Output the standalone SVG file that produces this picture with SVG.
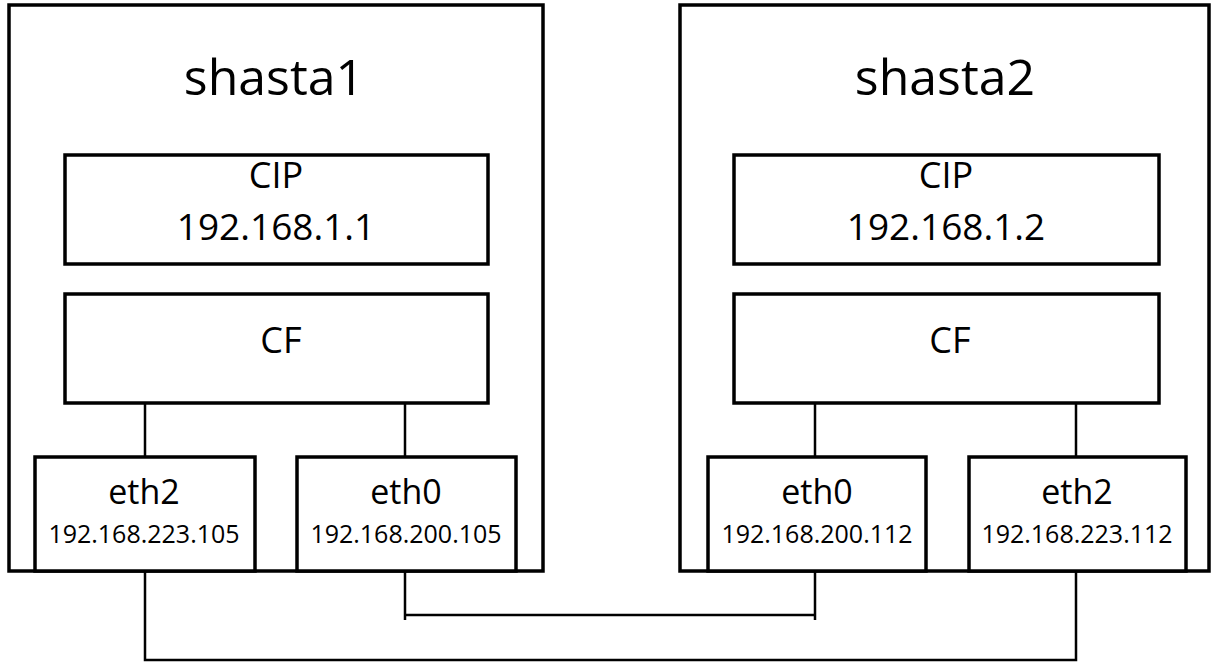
<svg xmlns="http://www.w3.org/2000/svg" width="1213" height="663" viewBox="0 0 1213 663">
<style>
.box{fill:#fff;stroke:#000;stroke-width:3.5}
.ob{fill:#fff;stroke:#000;stroke-width:3.5}
.ln{fill:none;stroke:#000;stroke-width:2.5}
text{font-family:"Open Sans","Liberation Sans",sans-serif;fill:#000;text-anchor:middle}
.t1{font-size:50px}
.t2{font-size:36px}
.t3{font-size:37px}
.t4{font-size:34px}
.t5{font-size:25px}
</style>
<rect width="1213" height="663" fill="#fff"/>
<g id="shasta1">
<rect class="ob" x="9" y="5" width="534" height="566"/>
<text class="t1" x="274" y="95">shasta1</text>
</g>
<g id="shasta2">
<rect class="ob" x="680" y="5" width="529" height="566"/>
<text class="t1" x="945" y="95">shasta2</text>
</g>
<g id="connectors">
<path class="ln" d="M145 403V457M405 403V457M815 403V457M1076 403V457"/>
<path class="ln" d="M405 569V620M815 569V620M405 615H815"/>
<path class="ln" d="M145 571V660H1076V571"/>
</g>
<g id="cip1">
<rect class="box" x="65" y="155" width="423" height="109"/>
<text class="t2" x="276" y="188">CIP</text>
<text class="t3" x="276" y="240">192.168.1.1</text>
</g>
<g id="cf1">
<rect class="box" x="65" y="294" width="423" height="109"/>
<text class="t2" x="281" y="353">CF</text>
</g>
<g id="eth2_1">
<rect class="box" x="35" y="457" width="220" height="114"/>
<text class="t4" x="144" y="504">eth2</text>
<text class="t5" x="144" y="543">192.168.223.105</text>
</g>
<g id="eth0_1">
<rect class="box" x="297" y="457" width="219" height="114"/>
<text class="t4" x="406" y="504">eth0</text>
<text class="t5" x="406" y="543">192.168.200.105</text>
</g>
<g id="cip2">
<rect class="box" x="734" y="155" width="425" height="109"/>
<text class="t2" x="946" y="188">CIP</text>
<text class="t3" x="946" y="240">192.168.1.2</text>
</g>
<g id="cf2">
<rect class="box" x="734" y="294" width="425" height="109"/>
<text class="t2" x="950" y="353">CF</text>
</g>
<g id="eth0_2">
<rect class="box" x="708" y="457" width="218" height="114"/>
<text class="t4" x="817" y="504">eth0</text>
<text class="t5" x="817" y="543">192.168.200.112</text>
</g>
<g id="eth2_2">
<rect class="box" x="969" y="457" width="217" height="114"/>
<text class="t4" x="1077" y="504">eth2</text>
<text class="t5" x="1077" y="543">192.168.223.112</text>
</g>
</svg>
